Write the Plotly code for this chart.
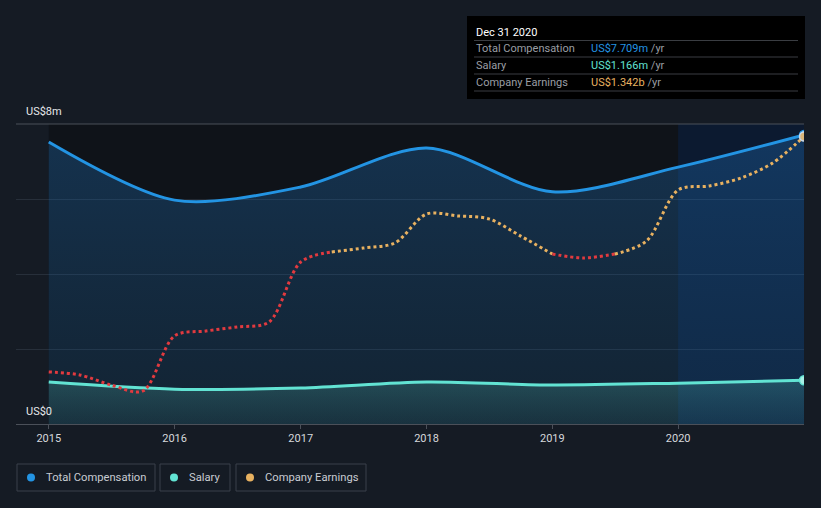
import plotly.graph_objects as go

# ---------------- data ----------------
comp_dates = ["2015-01-01", "2016-01-01", "2017-01-01", "2018-01-01", "2019-01-01", "2020-01-01", "2020-12-31"]
total_comp_m = [7.52, 5.97, 6.32, 7.36, 6.19, 6.85, 7.709]
salary_m = [1.12, 0.93, 0.96, 1.12, 1.04, 1.09, 1.166]

earn_dates = ["2015-01-01", "2015-04-01", "2015-07-01", "2015-10-01",
              "2016-01-01", "2016-04-01", "2016-07-01", "2016-10-01",
              "2017-01-01", "2017-04-01", "2017-07-01", "2017-10-01",
              "2018-01-01", "2018-04-01", "2018-07-01", "2018-10-01",
              "2019-01-01", "2019-04-01", "2019-07-01", "2019-10-01",
              "2020-01-01", "2020-04-01", "2020-07-01", "2020-10-01", "2020-12-31"]
earnings_b = [0.243, 0.229, 0.182, 0.154,
              0.411, 0.434, 0.453, 0.476,
              0.756, 0.803, 0.821, 0.845,
              0.980, 0.971, 0.957, 0.877,
              0.793, 0.775, 0.793, 0.854,
              1.092, 1.111, 1.148, 1.218, 1.342]
# index ranges where earnings line is drawn red
red_ranges = [(0, 9), (16, 18)]

year_ticks = ["2015-01-01", "2016-01-01", "2017-01-01", "2018-01-01", "2019-01-01", "2020-01-01"]
year_labels = ["2015", "2016", "2017", "2018", "2019", "2020"]

BLUE = "#2394e3"
TEAL = "#62e3d3"
ORANGE = "#e8b160"
RED = "#e23a3f"
BG = "#151b24"

fig = go.Figure()

# compensation
fig.add_trace(go.Scatter(
    x=comp_dates, y=total_comp_m, mode="lines", line=dict(color=BLUE, width=3, shape="spline", smoothing=0.85),
    fill="tozeroy", fillgradient=dict(type="vertical", colorscale=[[0, "rgba(35,110,170,0.18)"], [1, "rgba(35,130,215,0.28)"]]),
    hoverinfo="skip", showlegend=False))
fig.add_trace(go.Scatter(
    x=comp_dates, y=salary_m, mode="lines", line=dict(color=TEAL, width=3, shape="spline", smoothing=0.85),
    fill="tozeroy", fillgradient=dict(type="vertical", colorscale=[[0, "rgba(80,180,170,0.10)"], [1, "rgba(95,215,200,0.22)"]]),
    hoverinfo="skip", showlegend=False))

# earnings segments
n = len(earn_dates)
bounds = []
prev = 0
for a, b in red_ranges:
    if a > prev:
        bounds.append((prev, a, ORANGE))
    bounds.append((a, b, RED))
    prev = b
if prev < n - 1:
    bounds.append((prev, n - 1, ORANGE))
for a, b, c in bounds:
    fig.add_trace(go.Scatter(
        x=earn_dates[a:b + 1], y=earnings_b[a:b + 1], yaxis="y2", mode="lines",
        line=dict(color=c, width=3, dash="dot", shape="spline", smoothing=0.9),
        hoverinfo="skip", showlegend=False))

# end markers
fig.add_trace(go.Scatter(x=[comp_dates[-1]], y=[total_comp_m[-1]], mode="markers",
                         marker=dict(size=9, color="#9fd0f5", line=dict(color=BLUE, width=1.5)),
                         hoverinfo="skip", showlegend=False))
fig.add_trace(go.Scatter(x=[comp_dates[-1]], y=[salary_m[-1]], mode="markers",
                         marker=dict(size=9, color="#a6f0e6", line=dict(color=TEAL, width=1.5)),
                         hoverinfo="skip", showlegend=False))
fig.add_trace(go.Scatter(x=[earn_dates[-1]], y=[earnings_b[-1]], yaxis="y2", mode="markers",
                         marker=dict(size=9, color="#d9b57a", line=dict(color="#c9d8e8", width=1.5)),
                         hoverinfo="skip", showlegend=False))

L, R, T, B = 16, 804, 124, 424
W, H = 821, 508


def px(xp):
    return (xp - L) / (R - L)


def py(yp):
    return (B - yp) / (B - T)


shapes = [
    dict(type="rect", xref="x", yref="paper", x0="2015-01-01", x1="2020-01-01", y0=0, y1=1,
         fillcolor="#0f1319", line=dict(width=0), layer="below"),
    dict(type="rect", xref="x", yref="paper", x0="2020-01-01", x1="2020-12-31", y0=0, y1=1,
         fillcolor="#0c1a30", line=dict(width=0), layer="below"),
    dict(type="rect", xref="paper", yref="paper", x0=px(467), x1=px(805), y0=py(99), y1=py(16),
         fillcolor="#000000", line=dict(width=0)),
]
for ly in [40.5, 57, 74, 91]:
    shapes.append(dict(type="line", xref="paper", yref="paper", x0=px(474), x1=px(798), y0=py(ly), y1=py(ly),
                       line=dict(color="#3a3d42", width=1)))

legend_items = [("Total Compensation", BLUE, 17, 155), ("Salary", TEAL, 160, 230), ("Company Earnings", ORANGE, 236, 366)]
annotations = []
for label, col, x0, x1 in legend_items:
    shapes.append(dict(type="rect", xref="paper", yref="paper", x0=px(x0), x1=px(x1), y0=py(491), y1=py(464),
                       fillcolor="rgba(0,0,0,0)", line=dict(color="#3b414b", width=1)))
    shapes.append(dict(type="circle", xref="paper", yref="paper", x0=px(x0 + 10), x1=px(x0 + 18),
                       y0=py(481.5), y1=py(473.5), fillcolor=col, line=dict(width=0)))
    annotations.append(dict(text=label, xref="paper", yref="paper", x=px(x0 + 27), y=py(477.5),
                            xanchor="left", yanchor="middle", showarrow=False,
                            font=dict(size=11.2, color="#c8ccd2")))

annotations.append(dict(text="Dec 31 2020", xref="paper", yref="paper", x=px(474), y=py(32),
                        xanchor="left", yanchor="middle", showarrow=False, font=dict(size=11, color="#ffffff")))
rows = [("Total Compensation", "US$7.709m", BLUE, 48.5),
        ("Salary", "US$1.166m", TEAL, 65.5),
        ("Company Earnings", "US$1.342b", ORANGE, 82.5)]
for lab, val, col, ry in rows:
    annotations.append(dict(text=lab, xref="paper", yref="paper", x=px(474), y=py(ry),
                            xanchor="left", yanchor="middle", showarrow=False, font=dict(size=11, color="#9a9ea4")))
    annotations.append(dict(text=f"<span style='color:{col}'>{val}</span> /yr", xref="paper", yref="paper",
                            x=px(589), y=py(ry), xanchor="left", yanchor="middle", showarrow=False,
                            font=dict(size=11, color="#9a9ea4")))

annotations.append(dict(text="US$8m", xref="paper", yref="paper", x=px(24), y=py(112),
                        xanchor="left", yanchor="middle", showarrow=False, font=dict(size=11, color="#e6e8eb")))
annotations.append(dict(text="US$0", xref="paper", yref="paper", x=px(24), y=py(411),
                        xanchor="left", yanchor="middle", showarrow=False, font=dict(size=11, color="#e6e8eb")))

fig.update_layout(
    width=W, height=H,
    margin=dict(l=L, r=W - R, t=T, b=H - B, pad=0),
    paper_bgcolor=BG, plot_bgcolor=BG,
    font=dict(family="Roboto, sans-serif", color="#d0d3d8"),
    xaxis=dict(type="date", range=["2014-09-28", "2020-12-31"], tickvals=year_ticks, ticktext=year_labels,
               showgrid=False, zeroline=False, showline=True, linecolor="#4b5059", linewidth=1,
               ticks="outside", ticklen=4, tickcolor="#4b5059", tickfont=dict(size=11, color="#d6d8dc")),
    yaxis=dict(range=[0, 8], tickvals=[0, 2, 4, 6, 8], showticklabels=False, showgrid=True,
               gridcolor="rgba(120,140,160,0.18)", gridwidth=1, zeroline=False, fixedrange=True),
    yaxis2=dict(range=[0, 1.4], overlaying="y", side="right", showgrid=False, showticklabels=False,
                zeroline=False, showline=False),
    shapes=shapes + [dict(type="line", xref="paper", yref="paper", x0=0, x1=1, y0=1, y1=1,
                          line=dict(color="#4b5059", width=1))],
    annotations=annotations,
    showlegend=False,
    hovermode=False,
)

fig.write_html("out.html", config={"displayModeBar": False},
               post_script="document.body.style.margin='0';document.body.style.background='%s';" % BG)
